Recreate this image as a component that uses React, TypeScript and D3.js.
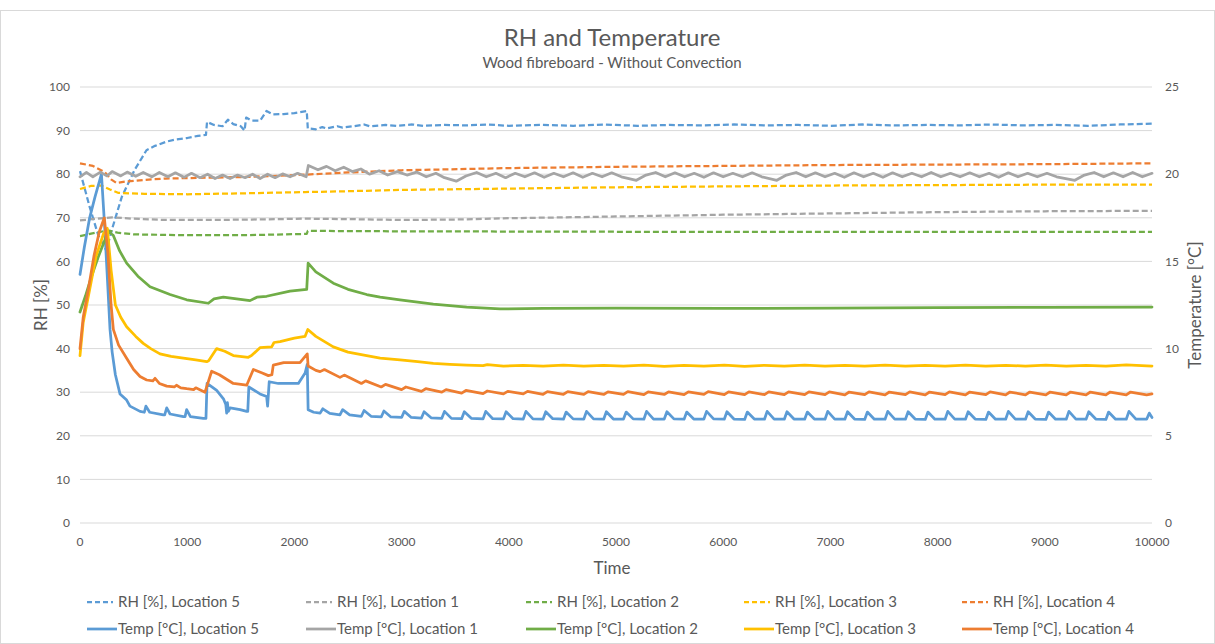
import * as d3 from 'd3';

type Pt = [number, number];

// time axis ticks
const timeTicks = [0, 1000, 2000, 3000, 4000, 5000, 6000, 7000, 8000, 9000, 10000];
const rhTicks = [0, 10, 20, 30, 40, 50, 60, 70, 80, 90, 100];
const tempTicks = [0, 5, 10, 15, 20, 25];

// RH [%] series (left axis)
const rhL5: Pt[] = [
  [0, 80.7], [90, 72.5], [170, 66], [245, 62.5], [300, 67.5], [390, 74.8], [510, 81], [620, 85.5], [700, 86.5],
  [810, 87.5], [900, 88], [1000, 88.3], [1100, 88.8], [1175, 89], [1185, 92], [1250, 91.3], [1330, 91],
  [1380, 92.5], [1430, 91.5], [1500, 91], [1535, 90], [1550, 93], [1600, 92.3], [1680, 92.3], [1740, 94.5],
  [1800, 93.7], [1900, 93.8], [2000, 94], [2115, 94.5], [2125, 90.5], [2200, 90.3], [2260, 90.8], [2300, 90.5],
  [2400, 91.0], [2450, 90.7], [2550, 91.0], [2650, 91.4], [2700, 91.0], [2850, 91.3], [2950, 91.1], [3100, 91.4],
  [3200, 91.1], [3400, 91.3], [3600, 91.2], [3800, 91.4], [4000, 91.1], [4300, 91.3], [4600, 91.1], [4900, 91.4],
  [5200, 91.1], [5500, 91.3], [5800, 91.2], [6100, 91.4], [6400, 91.2], [6700, 91.3], [7000, 91.1], [7300, 91.4],
  [7600, 91.2], [7900, 91.3], [8200, 91.2], [8500, 91.4], [8800, 91.2], [9100, 91.3], [9400, 91.1], [9700, 91.4],
  [10000, 91.6],
];
const rhL1: Pt[] = [
  [0, 69.4], [150, 69.8], [300, 70.1], [500, 69.8], [800, 69.5], [1200, 69.5], [1600, 69.6], [2100, 69.8],
  [2500, 69.7], [3000, 69.5], [3500, 69.6], [4000, 69.9], [5000, 70.3], [6000, 70.7], [7000, 71.0], [8000, 71.3],
  [9000, 71.5], [10000, 71.6],
];
const rhL2: Pt[] = [
  [0, 65.8], [150, 66.6], [260, 67.1], [350, 66.6], [500, 66.2], [1000, 66.0], [1500, 66.0], [2115, 66.3],
  [2125, 67.0], [3000, 66.9], [5000, 66.8], [7000, 66.8], [10000, 66.8],
];
const rhL3: Pt[] = [
  [0, 76.6], [100, 77.3], [200, 77.4], [280, 76.5], [360, 75.7], [600, 75.5], [1000, 75.4], [1500, 75.6],
  [2100, 75.9], [2500, 76.1], [3000, 76.4], [4000, 76.7], [5000, 77.0], [6000, 77.2], [7000, 77.4], [8000, 77.5],
  [9000, 77.6], [10000, 77.6],
];
const rhL4: Pt[] = [
  [0, 82.5], [120, 81.9], [230, 80.5], [290, 78.8], [340, 78.0], [420, 78.3], [600, 78.7], [800, 79.0],
  [1200, 79.2], [1600, 79.4], [2100, 79.9], [2500, 80.4], [3000, 80.9], [4000, 81.4], [5000, 81.7], [6000, 81.9],
  [7000, 82.1], [8000, 82.2], [9000, 82.3], [10000, 82.5],
];

// Temp [°C] series (right axis)
const tempL5: Pt[] = [
  [0, 14.25], [40, 15.8], [90, 17.5], [140, 18.7], [200, 20.0], [230, 17], [260, 13.5], [280, 11.1], [300, 9.8],
  [330, 8.5], [373, 7.4], [435, 7.05], [466, 6.7], [560, 6.4], [600, 6.35], [615, 6.7], [650, 6.35], [777, 6.2],
  [790, 6.2], [809, 6.6], [840, 6.25], [964, 6.1], [980, 6.1], [995, 6.5], [1030, 6.1], [1150, 6.0], [1175, 6.0],
  [1185, 8.0], [1275, 7.6], [1340, 7.1], [1360, 6.8], [1368, 6.3], [1375, 6.9], [1384, 6.4], [1400, 6.6],
  [1493, 6.5], [1555, 6.4], [1565, 6.4], [1575, 7.8], [1679, 7.4], [1741, 7.25], [1750, 6.7], [1765, 8.1],
  [1850, 8.0], [1928, 8.0], [2037, 8.0], [2100, 8.6], [2120, 9.1], [2128, 6.5], [2180, 6.35],
  [2240, 6.3], [2265, 6.55], [2330, 6.28], [2425, 6.2], [2450, 6.5], [2515, 6.2], [2625, 6.12], [2650, 6.45],
  [2715, 6.12], [2810, 6.08], [2835, 6.42], [2900, 6.08], [3000, 6.05], [3025, 6.4], [3090, 6.05], [3185, 6.02],
  [3210, 6.38], [3275, 6.03], [3375, 6.0], [3400, 6.4], [3465, 6.0], [3560, 5.98], [3585, 6.38], [3650, 6.0],
  [3760, 5.97], [3785, 6.4], [3850, 5.98], [3950, 5.97], [3975, 6.38], [4040, 5.98], [4135, 5.96], [4160, 6.4],
  [4225, 5.97], [4320, 5.96], [4345, 6.38], [4410, 5.98], [4510, 5.95], [4535, 6.36], [4600, 5.97], [4700, 5.96],
  [4725, 6.4], [4790, 5.97], [4885, 5.95], [4910, 6.38], [4975, 5.96], [5070, 5.96], [5095, 6.36], [5160, 5.97],
  [5260, 5.95], [5285, 6.4], [5350, 5.96], [5450, 5.96], [5475, 6.38], [5540, 5.97], [5635, 5.95], [5660, 6.36],
  [5725, 5.96], [5820, 5.96], [5845, 6.4], [5910, 5.97], [6010, 5.95], [6035, 6.38], [6100, 5.96], [6200, 5.94],
  [6225, 6.36], [6290, 5.96], [6385, 5.95], [6410, 6.4], [6475, 5.96], [6570, 5.95], [6595, 6.38], [6660, 5.96],
  [6760, 5.95], [6785, 6.36], [6850, 5.96], [6950, 5.95], [6975, 6.4], [7040, 5.96], [7135, 5.95], [7160, 6.38],
  [7225, 5.96], [7320, 5.94], [7345, 6.36], [7410, 5.95], [7510, 5.95], [7535, 6.4], [7600, 5.96], [7700, 5.95],
  [7725, 6.38], [7790, 5.96], [7885, 5.94], [7910, 6.36], [7975, 5.95], [8070, 5.95], [8095, 6.4], [8160, 5.96],
  [8260, 5.95], [8285, 6.38], [8350, 5.96], [8450, 5.94], [8475, 6.36], [8540, 5.95], [8635, 5.95], [8660, 6.4],
  [8725, 5.96], [8820, 5.95], [8845, 6.38], [8910, 5.96], [9010, 5.94], [9035, 6.36], [9100, 5.95], [9200, 5.95],
  [9225, 6.4], [9290, 5.96], [9385, 5.95], [9410, 6.38], [9475, 5.96], [9570, 5.94], [9595, 6.36], [9660, 5.95],
  [9760, 5.95], [9785, 6.4], [9850, 5.96], [9950, 5.95], [9975, 6.3], [10000, 6.05],
];
const tempL1: Pt[] = [
  [0, 19.85], [60, 20.1], [120, 19.85], [190, 20.12], [250, 19.9], [300, 20.15], [380, 19.9], [440, 20.12],
  [520, 19.88], [590, 20.1], [670, 19.85], [740, 20.1], [820, 19.85], [890, 20.08], [970, 19.82], [1040, 20.05],
  [1120, 19.8], [1190, 20.0], [1260, 19.75], [1330, 19.95], [1400, 19.75], [1470, 19.95], [1540, 19.8],
  [1610, 20.0], [1680, 19.75], [1750, 20.0], [1820, 19.8], [1890, 20.02], [1960, 19.85], [2030, 20.05],
  [2110, 19.85], [2130, 20.5], [2220, 20.25], [2300, 20.45], [2380, 20.2], [2460, 20.4], [2540, 20.15],
  [2620, 20.3], [2700, 20.0], [2790, 20.2], [2870, 19.95], [2960, 20.15], [3050, 19.95], [3140, 20.12],
  [3230, 19.85], [3320, 20.05], [3400, 19.8], [3510, 19.6], [3600, 19.9], [3700, 20.1], [3790, 19.85],
  [3880, 20.05], [3970, 19.8], [4060, 20.05], [4150, 19.85], [4240, 20.08], [4330, 19.82], [4420, 20.05],
  [4510, 19.85], [4600, 20.08], [4690, 19.82], [4780, 20.05], [4870, 19.85], [4960, 20.08], [5050, 19.85],
  [5190, 19.65], [5280, 19.95], [5370, 20.1], [5460, 19.85], [5550, 20.08], [5640, 19.85], [5730, 20.05],
  [5820, 19.82], [5910, 20.08], [6000, 19.85], [6090, 20.05], [6180, 19.85], [6270, 20.08], [6360, 19.85],
  [6500, 19.65], [6590, 19.95], [6680, 20.1], [6770, 19.85], [6860, 20.08], [6950, 19.85], [7040, 20.05],
  [7130, 19.82], [7220, 20.08], [7310, 19.85], [7400, 20.05], [7490, 19.82], [7580, 20.08], [7670, 19.85],
  [7760, 20.05], [7850, 19.85], [7940, 20.1], [8030, 19.85], [8120, 20.05], [8210, 19.85], [8300, 20.08],
  [8390, 19.85], [8480, 20.05], [8570, 19.82], [8660, 20.08], [8750, 19.85], [8840, 20.05], [8930, 19.85],
  [9020, 20.05], [9110, 19.85], [9280, 19.65], [9370, 19.95], [9460, 20.1], [9550, 19.85], [9640, 20.08],
  [9730, 19.85], [9820, 20.1], [9910, 19.85], [10000, 20.05],
];
const tempL2: Pt[] = [
  [0, 12.1], [50, 13.0], [100, 14.0], [170, 15.25], [230, 16.2], [265, 16.7], [310, 16.5], [370, 15.6],
  [435, 14.9], [540, 14.15], [653, 13.55], [840, 13.1], [995, 12.8], [1197, 12.6], [1250, 12.85], [1337, 12.95],
  [1461, 12.85], [1586, 12.75], [1650, 12.95], [1741, 13.0], [1959, 13.3], [2115, 13.4], [2128, 14.9],
  [2200, 14.4], [2363, 13.75], [2500, 13.4], [2674, 13.1], [2800, 12.95], [2985, 12.8], [3296, 12.55],
  [3607, 12.38], [3918, 12.28], [4322, 12.3], [5000, 12.32], [6000, 12.3], [7000, 12.32], [8000, 12.35],
  [9000, 12.37], [10000, 12.38],
];
const tempL3: Pt[] = [
  [0, 9.6], [30, 11.5], [78, 13.0], [150, 15.3], [220, 16.6], [255, 16.9], [290, 14.5], [330, 12.5],
  [380, 11.8], [435, 11.25], [520, 10.7], [590, 10.3], [660, 10.0], [746, 9.7], [850, 9.55], [964, 9.45],
  [1080, 9.35], [1182, 9.25], [1200, 9.3], [1275, 10.0], [1350, 9.85], [1430, 9.6], [1570, 9.5], [1600, 9.6],
  [1679, 10.05], [1788, 10.1], [1810, 10.35], [1866, 10.4], [2000, 10.6], [2099, 10.7], [2125, 11.1],
  [2200, 10.7], [2363, 10.1], [2500, 9.8], [2674, 9.6], [2800, 9.45], [2985, 9.35], [3150, 9.25], [3296, 9.15],
  [3450, 9.1], [3607, 9.05], [3760, 9.02], [3800, 9.08], [3950, 9.0], [4135, 9.04], [4320, 9.0], [4510, 9.05],
  [4700, 9.0], [4885, 9.04], [5070, 9.0], [5260, 9.05], [5450, 8.98], [5635, 9.04], [5820, 9.0], [6010, 9.05],
  [6200, 8.98], [6385, 9.04], [6570, 9.0], [6760, 9.05], [6950, 8.99], [7135, 9.04], [7320, 9.0], [7510, 9.05],
  [7700, 8.99], [7885, 9.04], [8070, 9.0], [8260, 9.05], [8450, 8.99], [8635, 9.04], [8820, 9.0], [9010, 9.05],
  [9200, 8.99], [9385, 9.04], [9570, 9.0], [9760, 9.06], [10000, 9.0],
];
const tempL4: Pt[] = [
  [0, 10.0], [30, 11.8], [78, 13.4], [130, 15.3], [180, 16.7], [227, 17.5], [260, 15.5], [290, 12.5],
  [311, 11.1], [360, 10.2], [435, 9.45], [500, 8.8], [560, 8.4], [622, 8.2], [680, 8.15], [700, 8.3],
  [740, 8.0], [809, 7.85], [880, 7.8], [900, 7.9], [940, 7.75], [995, 7.7], [1060, 7.65], [1080, 7.75],
  [1166, 7.5], [1228, 8.7], [1300, 8.5], [1430, 8.0], [1555, 7.9], [1617, 8.8], [1700, 8.6], [1757, 8.45],
  [1790, 8.5], [1803, 9.05], [1900, 9.2], [2052, 9.2], [2120, 9.7], [2128, 9.0], [2200, 8.75],
  [2240, 8.68], [2280, 8.8], [2425, 8.35], [2465, 8.48], [2625, 8.0], [2665, 8.15], [2810, 7.8], [2850, 7.95],
  [3000, 7.65], [3040, 7.8], [3185, 7.55], [3225, 7.7], [3375, 7.5], [3415, 7.65], [3560, 7.45], [3600, 7.6],
  [3760, 7.42], [3800, 7.57], [3950, 7.4], [3990, 7.55], [4135, 7.4], [4175, 7.55], [4320, 7.38], [4360, 7.53],
  [4510, 7.38], [4550, 7.53], [4700, 7.37], [4740, 7.53], [4885, 7.37], [4925, 7.52], [5070, 7.37], [5110, 7.53],
  [5260, 7.36], [5300, 7.52], [5450, 7.37], [5490, 7.52], [5635, 7.36], [5675, 7.52], [5820, 7.37], [5860, 7.53],
  [6010, 7.36], [6050, 7.52], [6200, 7.36], [6240, 7.52], [6385, 7.36], [6425, 7.52], [6570, 7.36], [6610, 7.52],
  [6760, 7.36], [6800, 7.52], [6950, 7.36], [6990, 7.52], [7135, 7.35], [7175, 7.51], [7320, 7.36], [7360, 7.52],
  [7510, 7.35], [7550, 7.51], [7700, 7.36], [7740, 7.52], [7885, 7.35], [7925, 7.51], [8070, 7.36], [8110, 7.52],
  [8260, 7.35], [8300, 7.51], [8450, 7.36], [8490, 7.52], [8635, 7.35], [8675, 7.51], [8820, 7.35], [8860, 7.51],
  [9010, 7.35], [9050, 7.51], [9200, 7.35], [9240, 7.51], [9385, 7.35], [9425, 7.51], [9570, 7.35], [9610, 7.51],
  [9760, 7.35], [9800, 7.51], [9950, 7.35], [10000, 7.4],
];

const BLUE = '#5B9BD5';
const GRAY = '#A5A5A5';
const GREEN = '#70AD47';
const YELLOW = '#FFC000';
const ORANGE = '#ED7D31';
const TEXT = '#595959';
const GRID = '#D9D9D9';

const W = 1215;
const H = 644;
const plot = { left: 80, right: 1152, top: 87, bottom: 523 };

const x = d3.scaleLinear().domain([0, 10000]).range([plot.left, plot.right]);
const yRH = d3.scaleLinear().domain([0, 100]).range([plot.bottom, plot.top]);
const yT = d3.scaleLinear().domain([0, 25]).range([plot.bottom, plot.top]);

const rhLine = d3.line<Pt>().x(d => x(d[0])).y(d => yRH(d[1]));
const tLine = d3.line<Pt>().x(d => x(d[0])).y(d => yT(d[1]));

const rhSeries = [
  { name: 'RH [%], Location 5', data: rhL5, color: BLUE },
  { name: 'RH [%], Location 1', data: rhL1, color: GRAY },
  { name: 'RH [%], Location 2', data: rhL2, color: GREEN },
  { name: 'RH [%], Location 3', data: rhL3, color: YELLOW },
  { name: 'RH [%], Location 4', data: rhL4, color: ORANGE },
];
const tempSeries = [
  { name: 'Temp [°C], Location 5', data: tempL5, color: BLUE },
  { name: 'Temp [°C], Location 1', data: tempL1, color: GRAY },
  { name: 'Temp [°C], Location 2', data: tempL2, color: GREEN },
  { name: 'Temp [°C], Location 3', data: tempL3, color: YELLOW },
  { name: 'Temp [°C], Location 4', data: tempL4, color: ORANGE },
];

const DASH = '6,3';
const legendX = [87, 306, 526, 744, 962];

export default function App() {
  const font = 'Lato, "Open Sans", sans-serif';
  return (
    <svg
      width={W}
      height={H}
      viewBox={`0 0 ${W} ${H}`}
      style={{ position: 'absolute', left: 0, top: 0, background: '#fff' }}
      fontFamily={font}
    >
      <rect x={0.5} y={10.5} width={W - 1} height={H - 11} fill="#fff" stroke={GRID} />

      <text x={612} y={46} textAnchor="middle" fontSize={24} fill={TEXT}>RH and Temperature</text>
      <text x={612} y={68} textAnchor="middle" fontSize={15} fill={TEXT}>Wood fibreboard - Without Convection</text>

      {/* gridlines */}
      {rhTicks.map(t => (
        <line key={t} x1={plot.left} x2={plot.right} y1={yRH(t)} y2={yRH(t)} stroke={GRID} strokeWidth={1} />
      ))}

      {/* left ticks */}
      {rhTicks.map(t => (
        <text key={t} x={70} y={yRH(t)} dy="0.35em" textAnchor="end" fontSize={12} fill={TEXT}>{t}</text>
      ))}
      {/* right ticks */}
      {tempTicks.map(t => (
        <text key={t} x={1165} y={yT(t)} dy="0.35em" textAnchor="start" fontSize={12} fill={TEXT}>{t}</text>
      ))}
      {/* bottom ticks */}
      {timeTicks.map(t => (
        <text key={t} x={x(t)} y={546} textAnchor="middle" fontSize={12} fill={TEXT}>{t}</text>
      ))}

      <text x={612} y={574} textAnchor="middle" fontSize={17} fill={TEXT}>Time</text>
      <text transform="translate(47,305) rotate(-90)" textAnchor="middle" fontSize={17} fill={TEXT}>RH [%]</text>
      <text transform="translate(1201,305) rotate(-90)" textAnchor="middle" fontSize={17} fill={TEXT}>Temperature [°C]</text>

      {/* RH series, dashed */}
      {rhSeries.map(s => (
        <path key={s.name} d={rhLine(s.data) || ''} fill="none" stroke={s.color} strokeWidth={2.25}
          strokeDasharray={DASH} strokeLinejoin="round" />
      ))}
      {/* Temperature series, solid */}
      {tempSeries.map(s => (
        <path key={s.name} d={tLine(s.data) || ''} fill="none" stroke={s.color} strokeWidth={2.75}
          strokeLinejoin="round" strokeLinecap="round" />
      ))}

      {/* legend */}
      {rhSeries.map((s, i) => (
        <g key={s.name} transform={`translate(${legendX[i]},602)`}>
          <line x1={0} x2={26} y1={0} y2={0} stroke={s.color} strokeWidth={2.25} strokeDasharray="5,3" />
          <text x={31} y={0} dy="0.35em" fontSize={15} fill={TEXT}>{s.name}</text>
        </g>
      ))}
      {tempSeries.map((s, i) => (
        <g key={s.name} transform={`translate(${legendX[i]},629)`}>
          <line x1={0} x2={30} y1={0} y2={0} stroke={s.color} strokeWidth={2.75} />
          <text x={31} y={0} dy="0.35em" fontSize={15} fill={TEXT}>{s.name}</text>
        </g>
      ))}
    </svg>
  );
}
